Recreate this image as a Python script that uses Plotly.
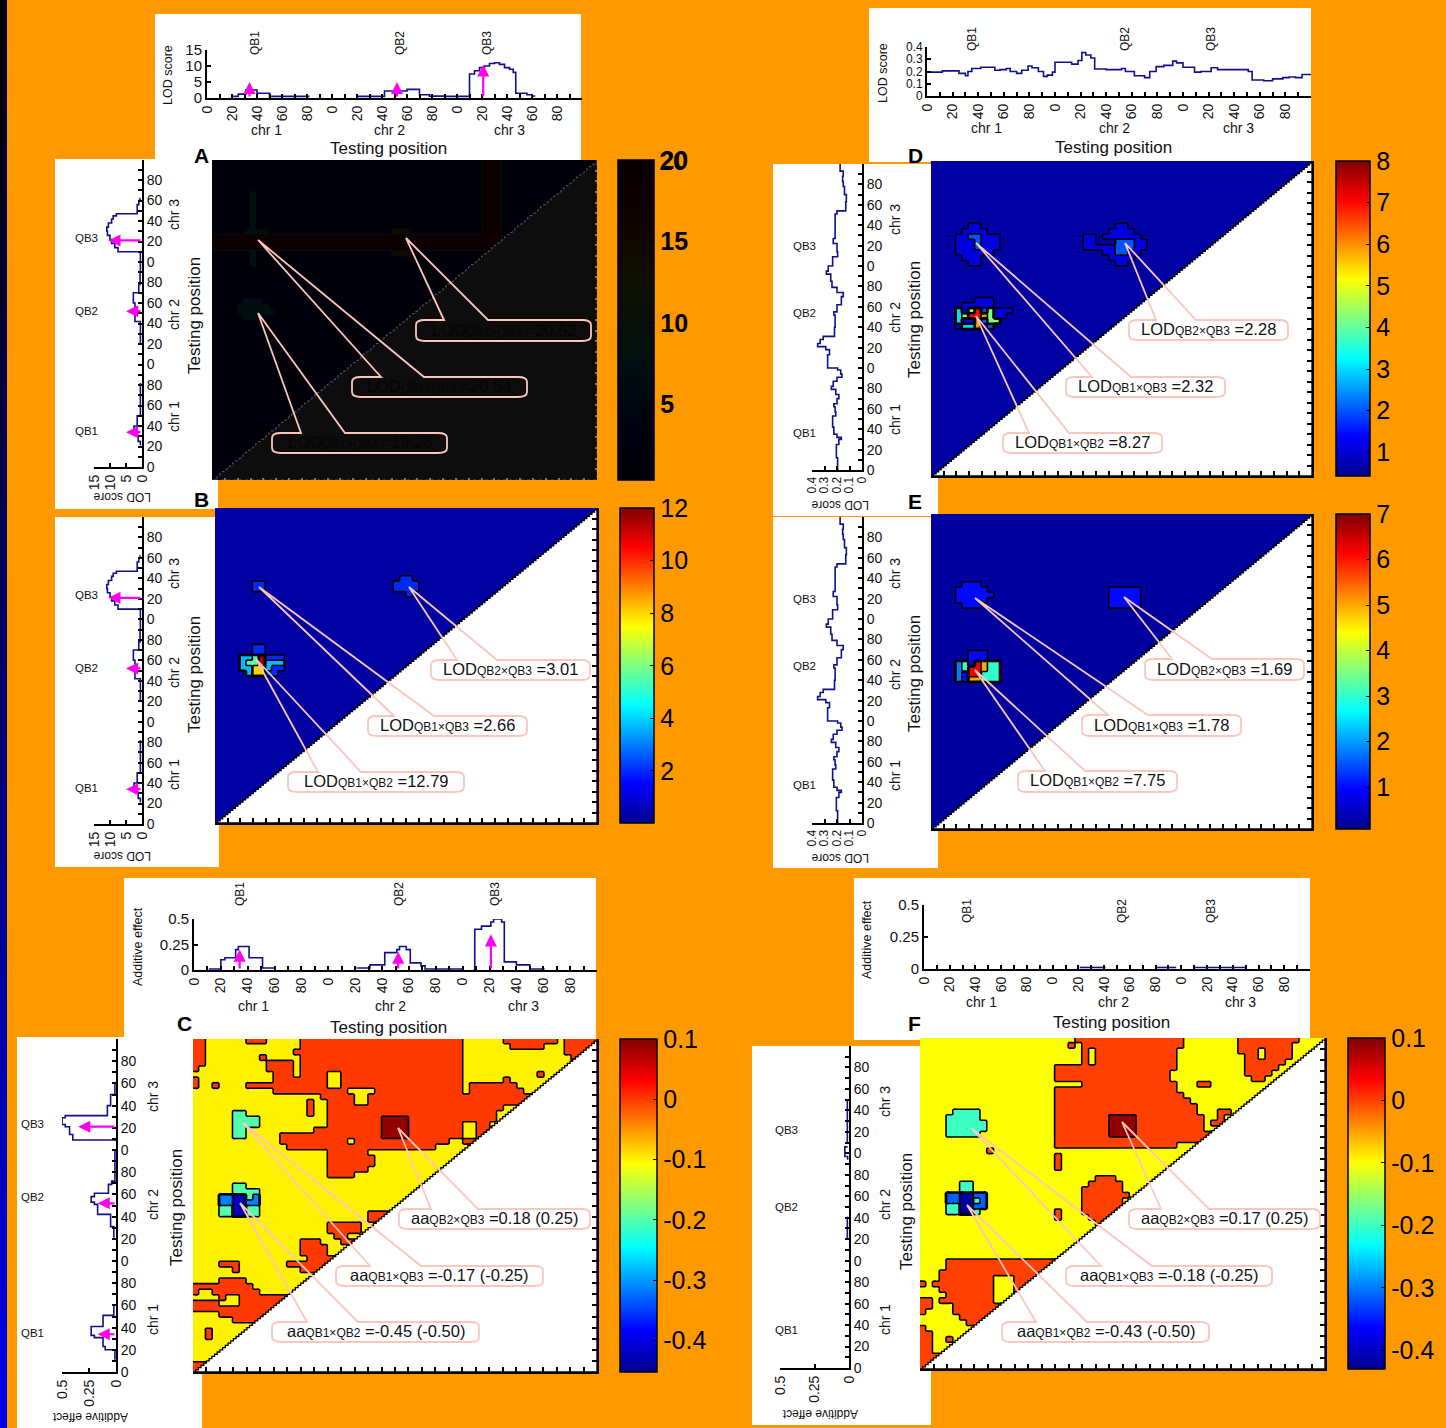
import numpy as np
import plotly.graph_objects as go

W, H = 1446, 1428
ORANGE = "#ff9900"
FONT = "Liberation Sans"
NARROW = "Liberation Sans Narrow, Liberation Sans"
LINE = "#10108c"
MAGENTA = "#ff00ee"

# ---------- curves (cM along the three chromosomes, value) ----------
LOD_POS = [21, 25, 31, 40, 50, 82, 83, 120, 142, 160, 170, 178, 188, 190, 210, 214, 218, 222, 226, 230, 234, 238, 242, 245, 247, 256, 260, 262]
LOD_VAL = [0.5, 1.2, 2.5, 1.5, 0.5, 0.5, None, 0.5, 2.2, 2.7, 1, 0.6, 0.6, 0.5, 7.5, 8.5, 9.5, 10, 10.8, 11, 10.5, 9.5, 9, 8, 1.5, 1, 0.6, 0.5]
ADD_POS = [11, 20, 23, 31, 33, 41, 51, 61, 62, 121, 131, 142, 151, 153, 158, 161, 169, 172, 200, 201, 208, 209, 214, 221, 223, 229, 231, 240, 250, 261]
ADD_VAL = [0.01, 0.1, 0.12, 0.2, 0.23, 0.12, 0.02, 0.02, None, 0.02, 0.05, 0.17, 0.2, 0.23, 0.2, 0.07, 0.04, 0.01, 0.01, None, 0.0, 0.4, 0.43, 0.47, 0.5, 0.47, 0.08, 0.05, 0.01, 0.01]
EPI_POS = [0, 10, 12, 22, 25, 30, 32, 35, 42, 51, 53, 57, 62, 65, 70, 74, 79, 82, 87, 91, 94, 98, 100, 111, 113, 118, 121, 124, 128, 131, 140, 152, 155, 162, 170, 174, 179, 185, 192, 195, 200, 209, 214, 222, 227, 243, 251, 254, 263, 270, 278, 283, 288, 293, 300]
EPI_VAL = [0.195, 0.195, 0.205, 0.205, 0.185, 0.165, 0.2, 0.225, 0.235, 0.235, 0.21, 0.215, 0.225, 0.2, 0.185, 0.21, 0.245, 0.23, 0.2, 0.16, 0.17, 0.195, 0.275, 0.275, 0.26, 0.29, 0.355, 0.335, 0.31, 0.22, 0.215, 0.225, 0.2, 0.165, 0.15, 0.2, 0.24, 0.25, 0.285, 0.27, 0.235, 0.195, 0.2, 0.23, 0.215, 0.215, 0.2, 0.13, 0.125, 0.14, 0.15, 0.155, 0.15, 0.175, 0.175]
ZERO_POS = [121, 141, 142, 180, 196, 197, 209, 250]
ZERO_VAL = [0.012, 0.012, None, 0.012, 0.012, None, 0.012, 0.012]
ZERO_LEFT_POS = [120, 141, 142, 194, 197, 203, 206, 207, 210, 250]
ZERO_LEFT_VAL = [0.012, 0.012, None, 0.01, 0.03, 0.03, 0.01, None, 0.012, 0.012]

QTL_NAMES = ["QB1", "QB2", "QB3"]
QTL_POS = [34, 152, 221]
LOD_ARROW = [5, 5, 10.5]
ADD_ARROW_TOP = [0.2, 0.18, 0.35]
ADD_ARROW_LEFT = [0.17, 0.17, 0.35]

POSITION_TICKS = list(range(0, 300, 10))
POSITION_TEXT = [str(v % 100) if v % 20 == 0 else "" for v in POSITION_TICKS]

# ---------- interaction grids: 60 rows (top = 300 cM) of "letter + start column" ----------
C_LEVELS = {"N": -0.424, "B": -0.314, "G": -0.2, "Y": -0.1, "R": 0.0, "D": 0.09}
C_ROWS = [
 "R0 Y2 R8 Y11 R16 Y40 R46 Y54 R55", "R0 Y2 R16 Y40 R47 Y52 R55", "R0 Y2 R15 Y40 R55", "R0 Y2 R10 Y11 R16 Y40 R56",
 "R0 Y2 R11 Y15 R16 Y40", "R0 Y1 R11 Y15 R16 Y40", "Y0 R12 Y15 R16 Y20 R22 Y40 R51 Y52", "R0 Y1 R12 Y20 R22 Y40 R46 Y47",
 "R0 Y1 R3 Y4 R8 Y20 R22 Y40 R41 Y48", "Y0 R12 Y23 R27 Y40 R41 Y49", "Y0 R19 Y24 R26", "Y0 R17 Y18 R20 Y24 R26",
 "Y0 R17 Y18 R20 Y46", "Y0 G6 Y8 R17 Y18 R20 Y45", "Y0 G6 Y10 R20 D28 R32 Y45", "Y0 G6 Y10 R20 D28 R32 Y40 R42 Y44",
 "Y0 G6 Y8 R18 D28 R32 Y40 R42", "Y0 G6 Y8 R13 D28 R32 Y40 R42", "Y0 R13 Y23 R24 Y38 R40", "Y0 R14 Y36",
 "Y0 R20 Y26", "Y0 R20 Y27", "Y0 R20 Y27", "Y0 R20 Y26", "Y0 R20 Y24", "Y0", "Y0 G6 Y8", "Y0 G6 Y10",
 "Y0 B4 N6 G8 B9 Y10", "Y0 B4 N6 B8 Y10", "Y0 G4 N6 G8 Y10", "Y0 G4 N6 G8 Y10 R26", "Y0 R26", "Y0 R20 Y25", "Y0 R20 Y25",
 "Y0 R21 Y23", "Y0 R16 Y19 R22", "Y0 R16 Y20", "Y0 R16 Y20", "Y0 R17", "Y0 R4 Y7 R14", "Y0 R6 Y7 R16", "Y0", "Y0 R4 Y8",
 "R0 Y9", "R0 Y1 R3 Y10", "Y0 R4 Y5 R7", "R0 Y4 R7", "R0", "Y0 R4", "Y0 R6", "Y0", "Y0 R2 Y3", "Y0 R2 Y3", "Y0", "Y0", "Y0", "Y0", "R0", "R0",
]
F_LEVELS = {"N": -0.42, "B": -0.314, "G": -0.2, "Y": -0.1, "R": 0.0, "D": 0.09}
F_ROWS = [
 "Y0 R23 Y39 R47 Y56", "Y0 R22 Y23 R24 Y39 R47 Y55", "Y0 R24 Y25 R26 Y38 R47 Y50 R51 Y55", "Y0 R24 Y25 R26 Y38 R48 Y50 R51 Y55",
 "Y0 R24 Y25 R26 Y38 R48 Y54", "Y0 R20 Y38 R48 Y53", "Y0 R20 Y37 R48 Y52", "Y0 R20 Y37 R49 Y51", "Y0 R24 Y38 R41 Y43", "Y0 R20 Y38",
 "Y0 R20 Y39", "Y0 R20 Y40", "Y0 R20 Y41", "Y0 G5 Y9 R20 Y41 R44 Y46", "Y0 G4 Y9 R20 D28 R32 Y42 R44 Y45", "Y0 G4 Y10 R20 D28 R32 Y42 R43 Y45",
 "Y0 G4 Y10 R20 D28 R32 Y42", "Y0 G4 Y9 R20 D28 R32", "Y0 R20", "Y0 R20 Y38", "Y0 R10 Y11", "Y0 R20 Y21", "Y0 R20 Y21", "Y0 R20 Y21", "Y0",
 "Y0 R26 Y29", "Y0 G6 Y8 R25 Y30", "Y0 G6 Y8 R24 Y30", "Y0 B4 N6 B8 Y10 R24 Y31", "Y0 B4 N6 G8 B9 Y10 R24 Y30", "Y0 G4 N6 B8 Y10 R24 Y30",
 "Y0 G4 N6 G8 Y9 R20 Y21 R24 Y29", "Y0 R20 Y21 R25 Y28", "Y0 R26 Y27", "Y0", "Y0", "Y0", "Y0", "Y0", "Y0",
 "Y0 R4", "Y0 R4", "Y0 R3", "Y0 R3 Y11 R14", "R0 Y1 R2 Y11 R14", "Y0 R3 Y11 R14", "Y0 R4 Y11 R14", "R0 Y2 R3 Y11", "R0 Y2 R5", "R0 Y1 R5",
 "Y0 R6", "Y0 R7", "R0 Y1", "R0 Y2", "R0 Y2 R4 Y5", "R0 Y2", "R0 Y2", "R0", "R0", "R0",
]
A_LEVELS = {"N": 1.0, "W": 8.0, "T": 14.0, "Z": 18.0}
A_SPARSE = {
 0: "N0 Z42 N45", 1: "N0 Z42 N45", 2: "N0 Z42 N45", 3: "N0 Z42 N45", 4: "N0 Z42 N45", 5: "N0 Z42 N45", 6: "N0 W6 N7 Z42 N45",
 7: "N0 W6 N7 Z42 N45", 8: "N0 W6 N7 Z42 N45", 9: "N0 W6 N7 Z42 N45", 10: "N0 W6 N7 Z42 N45", 11: "N0 W6 N7 Z42 N45",
 12: "N0 W6 N7 Z42 N45", 13: "N0 W5 N9 T28 N31 Z42 N45", 14: "Z0 N45", 15: "Z0 N45", 16: "Z0 N45", 17: "N0 W6 N7 T28 N31",
 18: "N0 W6 N7", 19: "N0 W6 N7", 26: "N0 W5 N8", 27: "N0 W4 N9", 28: "N0 W4 N10", 29: "N0 W5 N8",
}
B_LEVELS = {"N": 0.3, "U": 2.0, "C": 3.7, "H": 5.5, "O": 8.0, "X": 11.5}
B_SPARSE = {
 13: "N0 U29 N31", 14: "N0 U6 N8 U28 N32", 15: "N0 U6 N8 U28 N32", 16: "N0 U30 N31", 26: "N0 U6 N8", 27: "N0 U6 N8",
 28: "N0 C4 H6 X7 U8 N11", 29: "N0 C4 H5 X7 C8 N11", 30: "N0 C4 O6 C8 U9 N11", 31: "N0 C5 O6 U8 N10",
}
D_LEVELS = {"N": 0.6, "L": 1.1, "M": 2.0, "C": 3.0, "G": 4.2, "O": 6.0, "X": 7.0}
D_SPARSE = {
 12: "N0 L6 N8 L29 N31", 13: "N0 L5 N9 L28 N32", 14: "N0 L4 M6 L8 N11 L24 N26 L27 N33", 15: "N0 L4 M7 L8 N11 L24 N26 M29 L32 N34",
 16: "N0 L4 M7 L8 N11 L24 N26 L26 M29 L32 N34", 17: "N0 L4 N10 L27 M29 L31 N33", 18: "N0 L5 N8 L28 N32", 19: "N0 L6 N8 L29 N31",
 26: "N0 L7 N10", 27: "N0 L5 N10", 28: "N0 C4 L5 G6 X7 M8 G9 L10 N13", 29: "N0 C4 G5 X6 O8 G9 L10 N12", 30: "N0 C4 L5 O7 M8 G9 N11", 31: "N0 L4 C5 O7 L8 M9 N10",
}
E_LEVELS = {"N": 0.2, "L": 1.0, "B": 1.8, "G": 3.0, "O": 5.0, "X": 6.2}
E_SPARSE = {
 13: "N0 L5 N8", 14: "N0 L4 N9 L28 N33", 15: "N0 L4 N10 L28 N33", 16: "N0 L4 N9 L28 N33", 17: "N0 L5 N8 L28 N33",
 26: "N0 L6 N9", 27: "N0 L6 N9", 28: "N0 B4 G5 L6 X7 O8 G9 N11", 29: "N0 B4 G5 X6 O8 G9 N11", 30: "N0 B4 L5 X6 G8 N11", 31: "N0 B4 L5 O6 G8 N11",
}

# ---------- callouts: panel, prefix, pair, value text ----------
PAIRS = ["QB2×QB3", "QB1×QB3", "QB1×QB2"]
A_TEXT = ["=20.52", "=20.54", "=19.28"]
B_TEXT = ["=3.01", "=2.66", "=12.79"]
C_TEXT = ["=0.18 (0.25)", "=-0.17 (-0.25)", "=-0.45 (-0.50)"]
D_TEXT = ["=2.28", "=2.32", "=8.27"]
E_TEXT = ["=1.69", "=1.78", "=7.75"]
F_TEXT = ["=0.17 (0.25)", "=-0.18 (-0.25)", "=-0.43 (-0.50)"]

# box x0,x1,y0,y1, wedge base b1,b2, tip x,y (page pixels, decoration only)
A_CALL = [(416, 591, 320, 341, 444, 488, 406, 238), (352, 527, 377, 397, 381, 424, 258, 240), (272, 447, 433, 453, 301, 345, 258, 313)]
B_CALL = [(431, 590, 660, 680, 457, 497, 409, 587), (368, 527, 716, 736, 394, 434, 259, 587), (288, 464, 772, 792, 318, 361, 256, 659)]
C_CALL = [(399, 590, 1209, 1229, 431, 478, 398, 1128), (336, 543, 1266, 1286, 370, 421, 243, 1123), (272, 479, 1322, 1342, 307, 358, 240, 1203)]
D_CALL = [(1129, 1288, 320, 340, 1156, 1196, 1125, 243), (1066, 1225, 377, 397, 1092, 1131, 976, 243), (1003, 1162, 433, 453, 1029, 1069, 976, 316)]
E_CALL = [(1145, 1304, 659, 680, 1172, 1212, 1124, 597), (1082, 1241, 715, 736, 1108, 1148, 975, 598), (1018, 1177, 771, 792, 1045, 1085, 975, 670)]
F_CALL = [(1129, 1320, 1209, 1229, 1161, 1209, 1122, 1122), (1066, 1272, 1266, 1286, 1101, 1152, 971, 1128), (1002, 1209, 1322, 1342, 1036, 1087, 967, 1205)]

# ---------- colorbar ticks ----------
A_CB = ([5, 10, 15, 20], 0.35, 20.0)
B_CB = ([2, 4, 6, 8, 10, 12], 0.02, 12.0)
C_CB = ([-0.4, -0.3, -0.2, -0.1, 0, 0.1], -0.452, 0.1)
D_CB = ([1, 2, 3, 4, 5, 6, 7, 8], 0.43, 8.0)
E_CB = ([1, 2, 3, 4, 5, 6, 7], 0.08, 7.0)
F_CB = ([-0.4, -0.3, -0.2, -0.1, 0, 0.1], -0.43, 0.1)

JET_STOPS = [(0, (0, 0, 143)), (0.125, (0, 0, 255)), (0.375, (0, 255, 255)), (0.625, (255, 255, 0)), (0.875, (255, 0, 0)), (1, (128, 0, 0))]


def jet(f, dim=1.0):
    f = min(max(f, 0), 1)
    for (a, ca), (b, cb) in zip(JET_STOPS, JET_STOPS[1:]):
        if f <= b:
            t = (f - a) / (b - a)
            c = [(p + (q - p) * t) * dim for p, q in zip(ca, cb)]
            return "rgb(%d,%d,%d)" % tuple(c)
    return "rgb(128,0,0)"


def jet_scale(dim=1.0):
    return [[s, jet(s, dim)] for s, _ in JET_STOPS]


def grid(rows, levels):
    order = sorted(levels, key=lambda k: levels[k])
    rank = {k: i for i, k in enumerate(order)}
    if isinstance(rows, dict):
        rows = [rows.get(i, "N0") for i in range(60)]
    m = np.zeros((60, 60))
    for r, row in enumerate(rows):
        for tok in row.split():
            m[r, int(tok[1:]):] = rank[tok[0]]
    return m[::-1], order


fig = go.Figure()
layout = {}
shapes = []
ann = []
axis_n = [0]


def px(x):
    return x / W


def py(y):
    return 1 - y / H


def new_axes(x0, x1, y_top, y_bot, xopt, yopt):
    axis_n[0] += 1
    n = axis_n[0]
    sfx = "" if n == 1 else str(n)
    layout["xaxis" + sfx] = dict(domain=[px(x0), px(x1)], anchor="y" + sfx, fixedrange=True, zeroline=False, showgrid=False, **xopt)
    layout["yaxis" + sfx] = dict(domain=[py(y_bot), py(y_top)], anchor="x" + sfx, fixedrange=True, zeroline=False, showgrid=False, **yopt)
    return "x" + sfx, "y" + sfx


def text(x, y, s, size=13, angle=0, color="#111", family=FONT):
    ann.append(dict(x=px(x), y=py(y), xref="paper", yref="paper", text=s, showarrow=False, textangle=angle,
                    font=dict(size=size, color=color, family=family), xanchor="center", yanchor="middle"))


def rect(x0, x1, y0, y1, color):
    shapes.append(dict(type="rect", xref="paper", yref="paper", x0=max(px(x0), 0), x1=px(x1), y0=max(py(y1), 0), y1=py(y0),
                       fillcolor=color, line=dict(width=0), layer="below"))


AX = dict(showline=True, linecolor="black", linewidth=2, ticks="inside", tickcolor="black", tickwidth=1.5)
TICKF = dict(size=14, family=FONT, color="#111")


def top_plot(x0, x1, y_top, y_bot, ymax, yticks, pos, val, arrows, qb_x, qb_y, chr_x, chr_y, tp, ylab, ylab_xy, ysize=15):
    xa, ya = new_axes(x0, x1, y_top, y_bot,
                      dict(range=[0, 300], tickvals=POSITION_TICKS, ticktext=POSITION_TEXT, tickangle=-90, ticklen=4, tickfont=TICKF, **AX),
                      dict(range=[0, ymax], tickvals=yticks, ticktext=[str(v) for v in yticks], ticklen=4, tickfont=dict(size=ysize, family=FONT, color="#111"), **AX))
    fig.add_trace(go.Scatter(x=pos, y=val, mode="lines", line=dict(color=LINE, width=1.6, shape="hv"), xaxis=xa, yaxis=ya, showlegend=False, hoverinfo="skip", connectgaps=False))
    if arrows:
        for p, v in zip(QTL_POS, arrows):
            ann.append(dict(x=p, y=v, ax=p, ay=0, xref=xa, yref=ya, axref=xa, ayref=ya, text="", showarrow=True,
                            arrowcolor=MAGENTA, arrowhead=2, arrowwidth=2.2, arrowsize=1.1))
    for name, qx in zip(QTL_NAMES, qb_x):
        text(qx, qb_y, name, 12, -90)
    for i, cx in enumerate(chr_x):
        text(cx, chr_y, "chr %d" % (i + 1), 14)
    text(tp[0], tp[1], "Testing position", 17)
    text(ylab_xy[0], ylab_xy[1], ylab, 12.5, -90)


def left_plot(x0, x1, y_top, y_bot, xmax, xticks, pos, val, arrows, qb_x, qb_y, chr_x, chr_y, tp, xlab, xlab_xy, xsize=14):
    xa, ya = new_axes(x0, x1, y_top, y_bot,
                      dict(range=[xmax, 0], tickvals=xticks, ticktext=[str(v) for v in xticks], tickangle=-90, ticklen=4, tickfont=dict(size=xsize, family=FONT, color="#111"), **AX),
                      dict(range=[0, 300], side="right", tickvals=POSITION_TICKS, ticktext=POSITION_TEXT, ticklen=4, tickfont=TICKF, **AX))
    fig.add_trace(go.Scatter(x=val, y=pos, mode="lines", line=dict(color=LINE, width=1.6, shape="vh"), xaxis=xa, yaxis=ya, showlegend=False, hoverinfo="skip", connectgaps=False))
    if arrows:
        for p, v in zip(QTL_POS, arrows):
            ann.append(dict(x=v, y=p, ax=0, ay=p, xref=xa, yref=ya, axref=xa, ayref=ya, text="", showarrow=True,
                            arrowcolor=MAGENTA, arrowhead=2, arrowwidth=2.2, arrowsize=1.1))
    for name, qy in zip(QTL_NAMES, qb_y):
        text(qb_x, qy, name, 11.5)
    for i, cy in enumerate(chr_y):
        text(chr_x, cy, "chr %d" % (i + 1), 14, -90)
    text(tp[0], tp[1], "Testing position", 17, -90)
    text(xlab_xy[0], xlab_xy[1], xlab, 12, 180)


def heat(x0, x1, y_top, y_bot, rows, levels, cb, cb_x, cb_w, tri="white", dim=1.0, lines=True, tick_font=None, call=None, prefix="LOD", vals=None, tcolor="#111", tsize=16.5):
    ticks, vmin, vmax = cb
    dark = dim < 1
    hax = dict(showline=not dark, linecolor="black", linewidth=2, ticks="inside", tickcolor="#777" if dark else "black",
               tickwidth=1.5, ticklen=2 if dark else 5, tickvals=POSITION_TICKS, showticklabels=False)
    xa, ya = new_axes(x0, x1, y_top, y_bot, dict(range=[0, 300], **hax), dict(range=[0, 300], side="right", **hax))
    m, order = grid(rows, levels)
    # each cell becomes a 3x3 block so that the contours keep the square outline of the cells
    fine = np.repeat(np.repeat(m, 3, axis=0), 3, axis=1)
    n = len(order)
    cols = [jet((levels[k] - vmin) / (vmax - vmin), dim) for k in order]
    scale = [[i / (n - 1), c] for i, c in enumerate(cols)]
    centers = np.linspace(0, 300, 180)
    fig.add_trace(go.Contour(x=centers, y=centers, z=fine, autocontour=False, colorscale=scale, showscale=False,
                             contours=dict(start=0.5, end=n - 1.5, size=1, coloring="fill"),
                             line=dict(color="black", width=1.6 if lines else 0, smoothing=0.8),
                             xaxis=xa, yaxis=ya, hoverinfo="skip"))
    steps = np.arange(0, 302, 2)
    sx = np.repeat(steps, 2)[1:]
    sy = np.repeat(steps, 2)[:-1]
    fig.add_trace(go.Scatter(x=list(sx) + [300, 0], y=list(sy) + [0, 0], mode="lines", fill="toself", fillcolor=tri,
                             line=dict(color="#5a5a5a" if dark else "black", width=1 if dark else 1.3, dash="dot" if dark else "solid"),
                             xaxis=xa, yaxis=ya, showlegend=False, hoverinfo="skip"))
    tf = tick_font or dict(size=25, family=NARROW, color="black")
    fig.add_trace(go.Scatter(x=[None, None], y=[None, None], mode="markers", xaxis=xa, yaxis=ya, showlegend=False, hoverinfo="skip",
                             marker=dict(color=[vmin, vmax], cmin=vmin, cmax=vmax, colorscale=jet_scale(dim), showscale=True,
                                         colorbar=dict(x=px(cb_x), xanchor="left", y=py(y_top), yanchor="top", len=y_bot - y_top, lenmode="pixels",
                                                       thickness=cb_w, thicknessmode="pixels", xpad=0, ypad=0, outlinecolor="black", outlinewidth=1.5,
                                                       ticks="inside", ticklen=4, tickcolor="black", tickvals=ticks, ticktext=[str(t) for t in ticks],
                                                       tickfont=tf))))
    for (bx0, bx1, by0, by1, b1, b2, tx, ty), pair, v in zip(call, PAIRS, vals):
        rx, ry = 9, 5
        X = lambda a: "%.5f" % px(a)
        Y = lambda a: "%.5f" % py(a)
        path = (f"M{X(b1)},{Y(by0)} L{X(tx)},{Y(ty)} L{X(b2)},{Y(by0)} L{X(bx1-rx)},{Y(by0)} Q{X(bx1)},{Y(by0)} {X(bx1)},{Y(by0+ry)} "
                f"L{X(bx1)},{Y(by1-ry)} Q{X(bx1)},{Y(by1)} {X(bx1-rx)},{Y(by1)} L{X(bx0+rx)},{Y(by1)} Q{X(bx0)},{Y(by1)} {X(bx0)},{Y(by1-ry)} "
                f"L{X(bx0)},{Y(by0+ry)} Q{X(bx0)},{Y(by0)} {X(bx0+rx)},{Y(by0)} Z")
        shapes.append(dict(type="path", path=path, xref="paper", yref="paper", line=dict(color="#fcc6bc", width=1.8), layer="above"))
        text((bx0 + bx1) / 2, (by0 + by1) / 2 - 1,
             f'{prefix}<span style="font-size:12px">{pair}</span> {v}', tsize, 0, tcolor)


# ---------- page background ----------
for i in range(60):
    rect(0, 7, i * H / 60, (i + 1) * H / 60 + 1, "rgb(0,0,%d)" % (i / 59 * 235))
for box in [(155, 581, 14, 160), (55, 218, 159, 509), (55, 219, 517, 867), (124, 596, 878, 1040), (17, 202, 1037, 1428),
            (869, 1311, 8, 162), (773, 938, 164, 516), (773, 938, 517, 868), (854, 1310, 878, 1040), (752, 931, 1046, 1425)]:
    rect(box[0], box[1], box[2], box[3], "white")
rect(212, 597, 160, 480, "#0d0d0d")
rect(215, 597, 508, 823, "white")
rect(193, 597, 1039, 1372, "white")
rect(931, 1312, 161, 476, "white")
rect(931, 1312, 514, 829, "white")
rect(920, 1325, 1038, 1369, "white")

LOD_T = [0, 5, 10, 15]
ADD_T = [0, 0.25, 0.5]
EPI_T = [0, 0.1, 0.2, 0.3, 0.4]
EPI_L = [0.4, 0.3, 0.2, 0.1, 0]

# Panel A
top_plot(207, 582, 50, 98, 15, LOD_T, LOD_POS, LOD_VAL, LOD_ARROW, [255, 400, 487], 43, [266, 389, 509], 130, (388, 149), "LOD score", (168, 75))
left_plot(94, 142, 159.5, 467, 15, LOD_T[::-1], LOD_POS, LOD_VAL, LOD_ARROW, 86, [431, 311, 238], 174, [417, 315, 215], (194, 316), "LOD score", (122, 497))
heat(212, 597, 160, 480, A_SPARSE, A_LEVELS, A_CB, 618, 36, tri="#0d0d0d", dim=0.06, lines=False,
     tick_font=dict(size=25, family=NARROW, color="black", weight="bold"), call=A_CALL, vals=A_TEXT, tcolor="#060606")
text(673, 161, "20", 25, 0, "black", NARROW)
text(201, 155, "<b>A</b>", 21, 0, "black")

# Panel B
left_plot(94, 142, 517, 824, 15, LOD_T[::-1], LOD_POS, LOD_VAL, LOD_ARROW, 86, [788, 668, 595], 174, [775, 673, 574], (194, 675), "LOD score", (122, 856))
heat(215, 597, 508, 823, B_SPARSE, B_LEVELS, B_CB, 620, 34, call=B_CALL, vals=B_TEXT)
text(201, 500, "<b>B</b>", 21, 0, "black")

# Panel C
top_plot(194, 597, 919, 970, 0.5, ADD_T, ADD_POS, ADD_VAL, ADD_ARROW_TOP, [240, 399, 495], 894, [254, 390, 523], 1006, (388, 1027), "Additive effect", (138, 947))
left_plot(62, 116, 1039, 1372, 0.5, ADD_T[::-1], ADD_POS, ADD_VAL, ADD_ARROW_LEFT, 32, [1333, 1197, 1124], 153, [1320, 1205, 1097], (176, 1208), "Additive effect", (90, 1417))
heat(193, 597, 1039, 1372, C_ROWS, C_LEVELS, C_CB, 620, 37, call=C_CALL, prefix="aa", vals=C_TEXT)
text(185, 1023, "<b>C</b>", 21, 0, "black")

# Panel D
top_plot(927, 1311, 47, 96, 0.4, EPI_T, EPI_POS, EPI_VAL, None, [972, 1125, 1211], 39, [986, 1114, 1238], 128, (1113, 148), "LOD score", (883, 73), ysize=12)
left_plot(812, 862, 164, 470, 0.4, EPI_L, EPI_POS, EPI_VAL, None, 804, [433, 313, 246], 895, [420, 318, 220], (914, 320), "LOD score", (840, 505), xsize=12)
heat(931, 1312, 161, 476, D_SPARSE, D_LEVELS, D_CB, 1336, 34, call=D_CALL, vals=D_TEXT)
text(915, 155, "<b>D</b>", 21, 0, "black")

# Panel E
left_plot(812, 862, 517, 823, 0.4, EPI_L, EPI_POS, EPI_VAL, None, 804, [785, 666, 599], 895, [776, 675, 574], (914, 674), "LOD score", (840, 858), xsize=12)
heat(931, 1312, 514, 829, E_SPARSE, E_LEVELS, E_CB, 1336, 34, call=E_CALL, vals=E_TEXT)
text(915, 502, "<b>E</b>", 21, 0, "black")

# Panel F
top_plot(924, 1310, 905, 969, 0.5, ADD_T, ZERO_POS, ZERO_VAL, None, [967, 1122, 1211], 911, [981, 1113, 1240], 1002, (1111, 1022), "Additive effect", (867, 940))
left_plot(780, 849, 1046, 1368, 0.5, ADD_T[::-1], ZERO_LEFT_POS, ZERO_LEFT_VAL, None, 787, [1330, 1207, 1130], 885, [1320, 1205, 1102], (906, 1212), "Additive effect", (820, 1414))
heat(920, 1325, 1038, 1369, F_ROWS, F_LEVELS, F_CB, 1348, 37, call=F_CALL, prefix="aa", vals=F_TEXT)
text(914, 1023, "<b>F</b>", 21, 0, "black")

fig.update_layout(width=W, height=H, margin=dict(l=0, r=0, t=0, b=0, pad=0, autoexpand=False), autosize=False, paper_bgcolor=ORANGE, plot_bgcolor="rgba(0,0,0,0)",
                  showlegend=False, shapes=shapes, annotations=ann, **layout)
fig.write_html("out.html", post_script="document.body.style.margin='0';document.body.style.background='#ff9900';", config={"displayModeBar": False})
